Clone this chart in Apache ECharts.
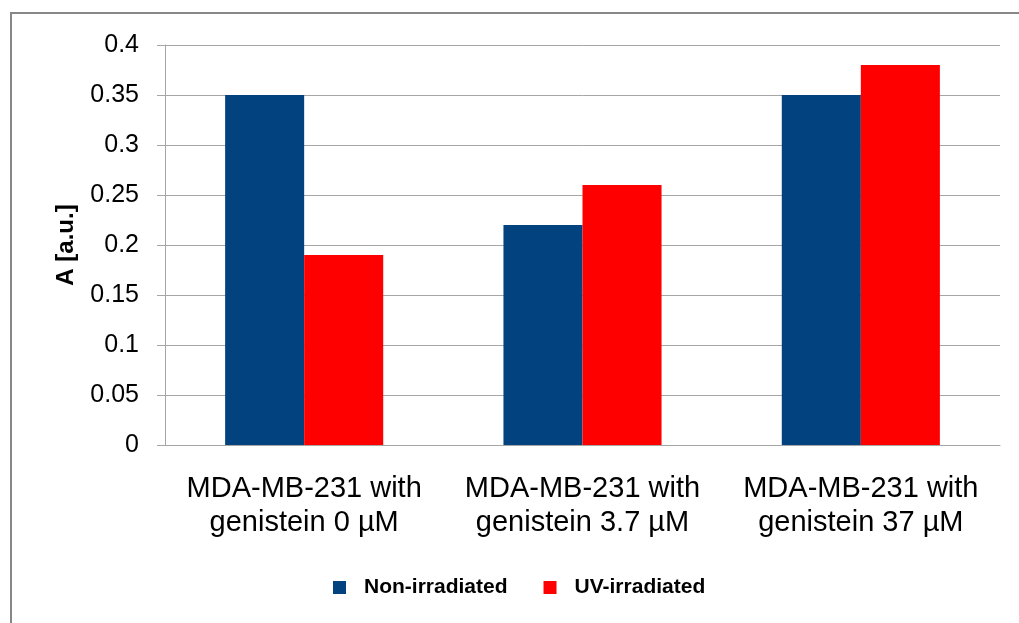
<!DOCTYPE html>
<html>
<head>
<meta charset="utf-8">
<script src="https://cdn.jsdelivr.net/npm/echarts@6/dist/echarts.min.js"></script>
<style>
html,body{margin:0;padding:0;background:#fff;}
#chart{width:1019px;height:623px;}
</style>
</head>
<body>
<div id="chart"></div>
<script>
const categories = ['MDA-MB-231 with\ngenistein 0 µM', 'MDA-MB-231 with\ngenistein 3.7 µM', 'MDA-MB-231 with\ngenistein 37 µM'];
const nonIrradiated = [0.35, 0.22, 0.35];
const uvIrradiated = [0.19, 0.26, 0.38];
const seriesNames = ['Non-irradiated', 'UV-irradiated'];
const yTitle = 'A [a.u.]';

const chart = echarts.init(document.getElementById('chart'), null, {renderer: 'canvas'});
const font = 'Liberation Sans, Arial, sans-serif';
chart.setOption({
  animation: false,
  backgroundColor: '#fff',
  graphic: [{
    type: 'rect',
    shape: {x: 11, y: 13, width: 1100, height: 700},
    style: {fill: 'none', stroke: '#878787', lineWidth: 2},
    z: -1
  }],
  grid: {left: 165, right: 19, top: 45, bottom: 178, containLabel: false},
  legend: {
    data: seriesNames,
    left: 333,
    top: 577,
    padding: 0,
    itemWidth: 13,
    itemHeight: 13,
    itemGap: 36,
    icon: 'rect',
    textStyle: {fontFamily: font, fontSize: 21, fontWeight: 'bold', color: '#000', padding: [0, 0, 0, 13]}
  },
  xAxis: {
    type: 'category',
    data: categories,
    axisLine: {show: true, lineStyle: {color: '#a6a6a6', width: 1}},
    axisTick: {show: false},
    axisLabel: {fontFamily: font, fontSize: 29, color: '#000', lineHeight: 34, margin: 27, interval: 0}
  },
  yAxis: {
    type: 'value',
    min: 0, max: 0.4, interval: 0.05,
    name: yTitle,
    nameLocation: 'middle',
    nameRotate: 90,
    nameGap: 87,
    nameTextStyle: {fontFamily: font, fontSize: 24, fontWeight: 'bold', color: '#000'},
    axisLine: {show: true, lineStyle: {color: '#a6a6a6', width: 1}},
    axisTick: {show: true, inside: false, length: 8, lineStyle: {color: '#a6a6a6'}},
    splitLine: {show: true, lineStyle: {color: '#a6a6a6', width: 1}},
    axisLabel: {fontFamily: font, fontSize: 25, color: '#000', margin: 26,
      formatter: v => String(Math.round(v * 100) / 100)}
  },
  series: [
    {name: seriesNames[0], type: 'bar', data: nonIrradiated, barWidth: '28.4%', barGap: '0%',
     itemStyle: {color: '#02437F'}},
    {name: seriesNames[1], type: 'bar', data: uvIrradiated, barWidth: '28.4%', barGap: '0%',
     itemStyle: {color: '#FF0000'}}
  ]
});
</script>
</body>
</html>
